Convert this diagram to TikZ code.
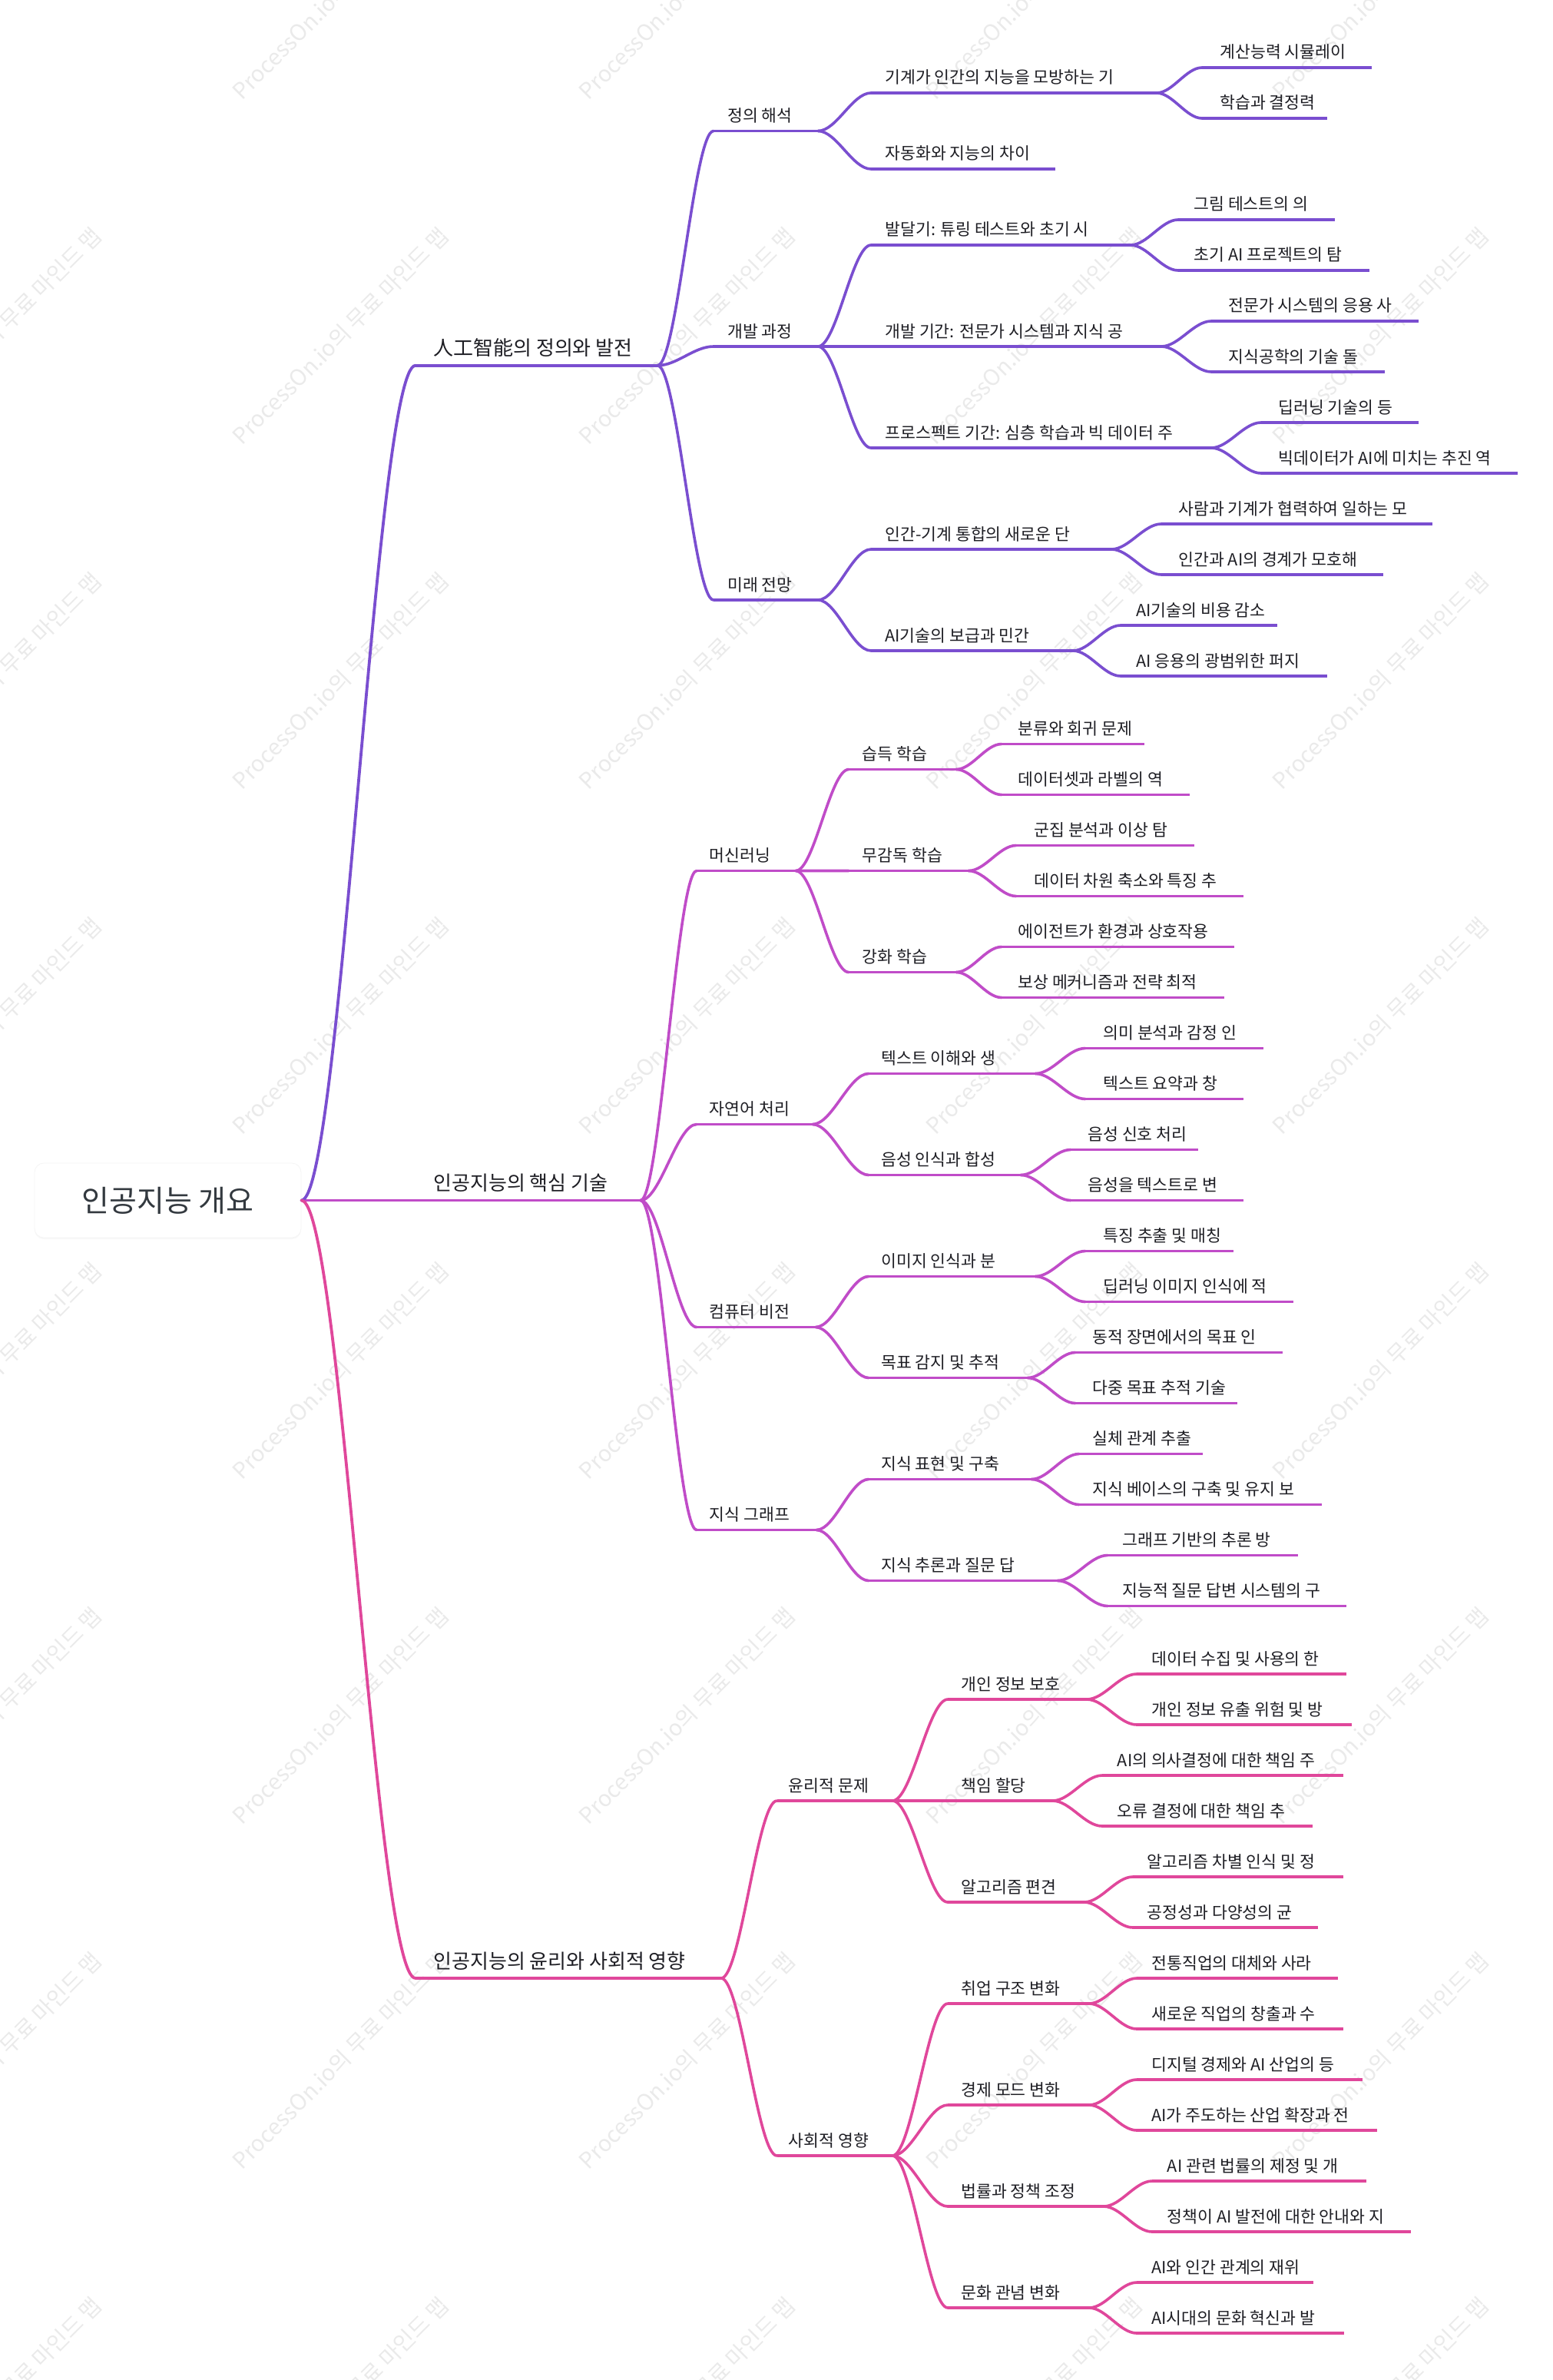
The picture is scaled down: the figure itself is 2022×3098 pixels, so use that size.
\documentclass[tikz,border=0pt]{standalone}
\usepackage{fontspec}
\setmainfont{Noto Sans CJK KR}
\usepackage{tikz}
\usepackage{xcolor}
\usetikzlibrary{calc,shadows}

\definecolor{mmPurple}{HTML}{7A4ED0}
\definecolor{mmMagenta}{HTML}{C04CC8}
\definecolor{mmPink}{HTML}{E0479B}
\definecolor{mmText}{HTML}{1E1E24}
\definecolor{mmRoot}{HTML}{33393F}
\definecolor{mmMark}{HTML}{EAEAEA}

\tikzset{
    mmcurve/.style={line width=1.8pt, line cap=round,
        to path={.. controls ($(\tikztostart)!0.35!(\tikztotarget |- \tikztostart)$)
            and ($(\tikztotarget)!0.35!(\tikztostart |- \tikztotarget)$) .. (\tikztotarget)}},
    stemone/.style={line width=1.9pt},
    stem/.style={line width=1.8pt},
    topicone/.style={inner sep=0pt, anchor=base west, text=mmText, font=\fontsize{13}{15}\selectfont},
    topic/.style={inner sep=0pt, anchor=base west, text=mmText, font=\fontsize{10.8}{12}\selectfont},
    rootbox/.style={rounded corners=6pt, fill=white, draw=black!4, line width=0.4pt,
        minimum width=173.5pt, minimum height=48.5pt, text=mmRoot,
        font=\fontsize{19.5}{22}\selectfont,
        drop shadow={shadow xshift=0pt, shadow yshift=-1pt, opacity=0.06}},
    wmark/.style={inner sep=0pt, rotate=45, text=mmMark, font=\fontsize{14.5}{16}\selectfont}
}

\begin{document}
\begin{tikzpicture}[x=0.5pt, y=-0.5pt]
    \useasboundingbox (0,0) rectangle (2022,3098);

    % Watermark grid
    \foreach \wx [count=\i] in {-8.5,443,894.5,1346,1797.5}
        \foreach \wy [count=\j] in {-12,437,886,1335,1784,2233,2682,3131}
            \node[wmark] (wm\i\j) at (\wx,\wy) {ProcessOn.io의 무료 마인드 맵};

    % Central topic
    \node[rootbox] (root) at (218.5,1562.5) {인공지능 개요};

    % Main branches
    \coordinate (t1S) at (541,475.75);  \coordinate (t1E) at (856,475.75);
    \coordinate (t2S) at (root.east);   \coordinate (t2E) at (834,1562.5);
    \coordinate (t3S) at (541,2575);    \coordinate (t3E) at (939,2575);
    \node[topicone] (t1) at (564,462.75) {人工智能의 정의와 발전};
    \node[topicone] (t2) at (564,1549.5) {인공지능의 핵심 기술};
    \node[topicone] (t3) at (564,2562) {인공지능의 윤리와 사회적 영향};
    \draw[stemone, mmPurple] (t1S) -- (t1E);
    \draw[stemone, mmMagenta] (t2S) -- (t2E);
    \draw[stemone, mmPink] (t3S) -- (t3E);
    \draw[mmcurve, stemone, mmPurple] (root.east) to (t1S);
    \draw[mmcurve, stemone, mmPink] (root.east) to (t3S);

    % First branch: definition and development
    \foreach \n/\xs/\xt/\xe/\y/\txt in {
        t1a/929/947/1065/170.5/{정의 해석},
        t1b/929/947/1065/451/{개발 과정},
        t1c/929/947/1065/781/{미래 전망},
        t1a1/1134/1152/1506/121/{기계가 인간의 지능을 모방하는 기},
        t1a2/1134/1152/1374/220/{자동화와 지능의 차이},
        t1b1/1134/1152/1472/319/{발달기: 튜링 테스트와 초기 시},
        t1b2/1134/1152/1512/451/{개발 기간: 전문가 시스템과 지식 공},
        t1b3/1134/1152/1577/583/{프로스펙트 기간: 심층 학습과 빅 데이터 주},
        t1c1/1134/1152/1447/715/{인간-기계 통합의 새로운 단},
        t1c2/1134/1152/1397/847/{AI기술의 보급과 민간},
        t1a1a/1565/1588/1786/88/{계산능력 시뮬레이},
        t1a1b/1565/1588/1728/154/{학습과 결정력},
        t1b1a/1534/1554/1738/286/{그림 테스트의 의},
        t1b1b/1534/1554/1783/352/{초기 AI 프로젝트의 탐},
        t1b2a/1577/1599/1847/418/{전문가 시스템의 응용 사},
        t1b2b/1577/1599/1803/484/{지식공학의 기술 돌},
        t1b3a/1642/1664/1847/550/{딥러닝 기술의 등},
        t1b3b/1642/1664/1976/616/{빅데이터가 AI에 미치는 추진 역},
        t1c1a/1512/1534/1865/682/{사람과 기계가 협력하여 일하는 모},
        t1c1b/1512/1534/1801/748/{인간과 AI의 경계가 모호해},
        t1c2a/1459/1479/1663/814/{AI기술의 비용 감소},
        t1c2b/1459/1479/1728/880/{AI 응용의 광범위한 퍼지}}{
        \coordinate (\n S) at (\xs,\y);
        \coordinate (\n E) at (\xe,\y);
        \node[topic] (\n) at (\xt,\y-12) {\txt};
        \draw[stem, mmPurple] (\n S) -- (\n E);
    }
    \foreach \p/\c in {t1/t1a, t1/t1b, t1/t1c, t1a/t1a1, t1a/t1a2, t1b/t1b1, t1b/t1b2,
        t1b/t1b3, t1c/t1c1, t1c/t1c2, t1a1/t1a1a, t1a1/t1a1b, t1b1/t1b1a, t1b1/t1b1b,
        t1b2/t1b2a, t1b2/t1b2b, t1b3/t1b3a, t1b3/t1b3b, t1c1/t1c1a, t1c1/t1c1b,
        t1c2/t1c2a, t1c2/t1c2b}
        \draw[mmcurve, mmPurple] (\p E) to (\c S);

    % Second branch: core technologies
    \foreach \n/\xs/\xt/\xe/\y/\txt in {
        t2a/907/923.5/1036/1133.5/{머신러닝},
        t2b/907/923.5/1058/1463.5/{자연어 처리},
        t2c/907/923.5/1062/1727.5/{컴퓨터 비전},
        t2d/907/923.5/1063/1991.5/{지식 그래프},
        t2a1/1105/1122.5/1245/1001.5/{습득 학습},
        t2a2/1105/1122.5/1261/1133.5/{무감독 학습},
        t2a3/1105/1122.5/1245/1265.5/{강화 학습},
        t2b1/1131/1147/1348/1397.5/{텍스트 이해와 생},
        t2b2/1131/1147/1329/1529.5/{음성 인식과 합성},
        t2c1/1131/1147/1348/1661.5/{이미지 인식과 분},
        t2c2/1131/1147/1338/1793.5/{목표 감지 및 추적},
        t2d1/1131/1147/1343/1925.5/{지식 표현 및 구축},
        t2d2/1131/1147/1377/2057.5/{지식 추론과 질문 답},
        t2a1a/1304/1325/1490/968.5/{분류와 회귀 문제},
        t2a1b/1304/1325/1549/1034.5/{데이터셋과 라벨의 역},
        t2a2a/1323/1346/1555/1100.5/{군집 분석과 이상 탐},
        t2a2b/1323/1346/1619/1166.5/{데이터 차원 축소와 특징 추},
        t2a3a/1304/1325/1607/1232.5/{에이전트가 환경과 상호작용},
        t2a3b/1304/1325/1594/1298.5/{보상 메커니즘과 전략 최적},
        t2b1a/1413/1436/1645/1364.5/{의미 분석과 감정 인},
        t2b1b/1413/1436/1619/1430.5/{텍스트 요약과 창},
        t2b2a/1394/1416/1560/1496.5/{음성 신호 처리},
        t2b2b/1394/1416/1619/1562.5/{음성을 텍스트로 변},
        t2c1a/1413/1436/1606/1628.5/{특징 추출 및 매칭},
        t2c1b/1413/1436/1684/1694.5/{딥러닝 이미지 인식에 적},
        t2c2a/1400/1422/1670/1760.5/{동적 장면에서의 목표 인},
        t2c2b/1400/1422/1611/1826.5/{다중 목표 추적 기술},
        t2d1a/1405/1422/1566/1892.5/{실체 관계 추출},
        t2d1b/1405/1422/1721/1958.5/{지식 베이스의 구축 및 유지 보},
        t2d2a/1442/1461/1690/2024.5/{그래프 기반의 추론 방},
        t2d2b/1442/1461/1753/2090.5/{지능적 질문 답변 시스템의 구}}{
        \coordinate (\n S) at (\xs,\y);
        \coordinate (\n E) at (\xe,\y);
        \node[topic] (\n) at (\xt,\y-12) {\txt};
        \draw[stem, mmMagenta] (\n S) -- (\n E);
    }
    \foreach \p/\c in {t2/t2a, t2/t2b, t2/t2c, t2/t2d, t2a/t2a1, t2a/t2a2, t2a/t2a3,
        t2b/t2b1, t2b/t2b2, t2c/t2c1, t2c/t2c2, t2d/t2d1, t2d/t2d2,
        t2a1/t2a1a, t2a1/t2a1b, t2a2/t2a2a, t2a2/t2a2b, t2a3/t2a3a, t2a3/t2a3b,
        t2b1/t2b1a, t2b1/t2b1b, t2b2/t2b2a, t2b2/t2b2b, t2c1/t2c1a, t2c1/t2c1b,
        t2c2/t2c2a, t2c2/t2c2b, t2d1/t2d1a, t2d1/t2d1b, t2d2/t2d2a, t2d2/t2d2b}
        \draw[mmcurve, mmMagenta] (\p E) to (\c S);

    % Third branch: ethics and society
    \foreach \n/\xs/\xt/\xe/\y/\txt in {
        t3a/1011.5/1026.5/1162/2344/{윤리적 문제},
        t3b/1011.5/1026.5/1162/2806/{사회적 영향},
        t3a1/1234/1251/1415/2212/{개인 정보 보호},
        t3a2/1234/1251/1370.5/2344/{책임 할당},
        t3a3/1234/1251/1411.5/2476/{알고리즘 편견},
        t3b1/1234/1251/1418/2608/{취업 구조 변화},
        t3b2/1234/1251/1418/2740/{경제 모드 변화},
        t3b3/1234/1251/1437/2872/{법률과 정책 조정},
        t3b4/1234/1251/1418/3004/{문화 관념 변화},
        t3a1a/1480/1499/1753/2179/{데이터 수집 및 사용의 한},
        t3a1b/1480/1499/1760/2245/{개인 정보 유출 위험 및 방},
        t3a2a/1435/1454.5/1748.5/2311/{AI의 의사결정에 대한 책임 주},
        t3a2b/1435/1454.5/1709/2377/{오류 결정에 대한 책임 추},
        t3a3a/1475/1493.5/1748.5/2443/{알고리즘 차별 인식 및 정},
        t3a3b/1475/1493.5/1716/2509/{공정성과 다양성의 균},
        t3b1a/1480/1499/1742/2575/{전통직업의 대체와 사라},
        t3b1b/1480/1499/1748.5/2641/{새로운 직업의 창출과 수},
        t3b2a/1480/1499/1774/2707/{디지털 경제와 AI 산업의 등},
        t3b2b/1480/1499/1793/2773/{AI가 주도하는 산업 확장과 전},
        t3b3a/1500/1519.5/1779/2839/{AI 관련 법률의 제정 및 개},
        t3b3b/1500/1519.5/1837/2905/{정책이 AI 발전에 대한 안내와 지},
        t3b4a/1480/1499/1710/2971/{AI와 인간 관계의 재위},
        t3b4b/1480/1499/1750/3037/{AI시대의 문화 혁신과 발}}{
        \coordinate (\n S) at (\xs,\y);
        \coordinate (\n E) at (\xe,\y);
        \node[topic] (\n) at (\xt,\y-12) {\txt};
        \draw[stem, mmPink] (\n S) -- (\n E);
    }
    \foreach \p/\c in {t3/t3a, t3/t3b, t3a/t3a1, t3a/t3a2, t3a/t3a3, t3b/t3b1, t3b/t3b2,
        t3b/t3b3, t3b/t3b4, t3a1/t3a1a, t3a1/t3a1b, t3a2/t3a2a, t3a2/t3a2b,
        t3a3/t3a3a, t3a3/t3a3b, t3b1/t3b1a, t3b1/t3b1b, t3b2/t3b2a, t3b2/t3b2b,
        t3b3/t3b3a, t3b3/t3b3b, t3b4/t3b4a, t3b4/t3b4b}
        \draw[mmcurve, mmPink] (\p E) to (\c S);
\end{tikzpicture}
\end{document}
